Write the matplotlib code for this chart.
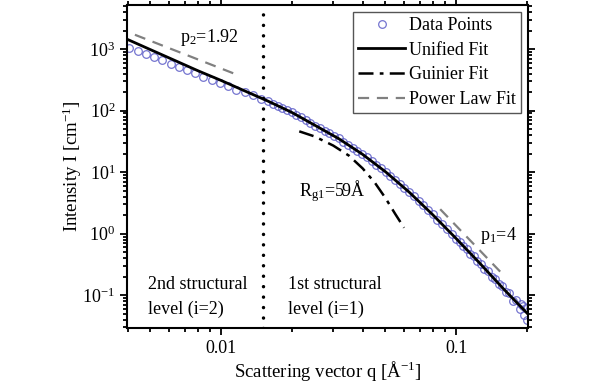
import matplotlib
matplotlib.use("Agg")
import matplotlib.pyplot as plt
from matplotlib.ticker import FixedLocator, LogLocator, LogFormatterMathtext, NullFormatter

plt.rcParams['font.family'] = ['Liberation Serif', 'DejaVu Serif']
plt.rcParams['mathtext.fontset'] = 'custom'
plt.rcParams['mathtext.rm'] = 'Liberation Serif'
plt.rcParams['mathtext.it'] = 'Liberation Serif:italic'

# measured data (q in 1/A, I in 1/cm)
q_data = [0.00407, 0.00442, 0.00479, 0.00519, 0.00562, 0.00610, 0.00661, 0.00716,
          0.00776, 0.00841, 0.00912, 0.00989, 0.01072, 0.01161, 0.01259, 0.01365,
          0.01479, 0.01585, 0.01660, 0.01738, 0.01820, 0.01905, 0.01995, 0.02089,
          0.02188, 0.02291, 0.02399, 0.02512, 0.02630, 0.02754, 0.02884, 0.03020,
          0.03162, 0.03311, 0.03467, 0.03631, 0.03802, 0.03981, 0.04169, 0.04365,
          0.04571, 0.04786, 0.05012, 0.05248, 0.05495, 0.05754, 0.06026, 0.06310,
          0.06607, 0.06918, 0.07244, 0.07586, 0.07943, 0.08318, 0.08710, 0.09120,
          0.09550, 0.1000, 0.1035, 0.1072, 0.1109, 0.1148, 0.1189, 0.1230,
          0.1274, 0.1318, 0.1365, 0.1413, 0.1462, 0.1514, 0.1567, 0.1622,
          0.1679, 0.1738, 0.1799, 0.1862, 0.1928, 0.1995, 0.1950, 0.1880, 0.1990]
I_data = [1040, 915, 822, 730, 652, 575, 512, 452,
          404, 355, 319, 281, 250, 220, 201, 176,
          157, 143, 130, 121, 110, 102, 93.8, 84.2,
          77.3, 69.5, 63.8, 57.1, 52.4, 46.9, 43.1, 38.5,
          35.3, 31.0, 28.1, 24.6, 22.3, 19.5, 17.4, 15.0,
          13.3, 11.5, 10.2, 8.6, 7.5, 6.35, 5.55, 4.70,
          4.03, 3.36, 2.88, 2.40, 2.06, 1.70, 1.44, 1.18,
          1.00, 0.825, 0.735, 0.625, 0.56, 0.475, 0.427, 0.36,
          0.322, 0.27, 0.245, 0.20, 0.187, 0.150, 0.142, 0.112,
          0.108, 0.082, 0.085, 0.060, 0.066, 0.040, 0.048, 0.072, 0.062]

# unified fit curve
q_fit = [0.00398, 0.00501, 0.00631, 0.00794, 0.0100, 0.0126, 0.0158, 0.0200, 0.0251,
         0.0316, 0.0398, 0.0501, 0.0631, 0.0794, 0.100, 0.126, 0.158, 0.200]
I_fit = [1445, 977, 661, 447, 309, 209, 143, 93.3, 57.5,
         35.1, 19.7, 10.1, 4.73, 2.04, 0.832, 0.331, 0.130, 0.0513]

# Guinier fit of first level
q_guin = [0.0215, 0.025, 0.030, 0.035, 0.040, 0.045, 0.050, 0.055, 0.060]
I_guin = [46, 38, 27, 18.5, 11.5, 6.8, 3.8, 2.1, 1.25]

# power law segments
q_p2 = [0.00430, 0.0117]
I_p2 = [1706, 382]
q_p1 = [0.0855, 0.1538]
I_p1 = [2.50, 0.242]

q_split = 0.0151

fig = plt.figure(figsize=(6, 3.83), dpi=100)
ax = fig.add_axes([0.2117, 0.1444, 0.6683, 0.8426])

ax.plot(q_data, I_data, 'o', mfc='none', mec='#5d5dc8', mew=0.9, ms=5.5,
        alpha=0.85, label='Data Points', zorder=2)
ax.plot(q_fit, I_fit, '-', color='black', lw=2, label='Unified Fit', zorder=4)
ax.plot(q_guin, I_guin, color='black', lw=1.8, ls=(0, (6, 2.5, 1.5, 2.5)),
        label='Guinier Fit', zorder=3)
ax.plot(q_p2, I_p2, color='#808080', lw=1.6, ls=(0, (5, 3.5)),
        label='Power Law Fit', zorder=3)
ax.plot(q_p1, I_p1, color='#808080', lw=1.6, ls=(0, (5, 3.5)), zorder=3)
ax.axvline(q_split, color='black', lw=2.5, ls=(0, (0.01, 3)),
           dash_capstyle='round', zorder=3)

ax.set_xscale('log')
ax.set_yscale('log')
ax.set_xlim(0.00398, 0.202)
ax.set_ylim(0.0297, 5200)

ax.xaxis.set_major_locator(FixedLocator([0.01, 0.1]))
ax.set_xticklabels(['0.01', '0.1'])
ax.xaxis.set_minor_locator(LogLocator(base=10, subs=range(2, 10), numticks=20))
ax.xaxis.set_minor_formatter(NullFormatter())
ax.yaxis.set_major_locator(LogLocator(base=10, numticks=20))
ax.yaxis.set_major_formatter(LogFormatterMathtext())
ax.yaxis.set_minor_locator(LogLocator(base=10, subs=range(2, 10), numticks=20))
ax.yaxis.set_minor_formatter(NullFormatter())

for s in ax.spines.values():
    s.set_linewidth(1.5)
ax.tick_params(which='both', direction='out', top=True, right=True, width=1.3,
               labelsize=13)
ax.tick_params(which='major', length=5)
ax.tick_params(which='minor', length=3)

ax.set_xlabel('Scattering vector q [Å$^{-1}$]', fontsize=13.5)
ax.set_ylabel('Intensity I [cm$^{-1}$]', fontsize=13.5)
ax.xaxis.set_label_coords(0.5, -0.098)
ax.yaxis.set_label_coords(-0.108, 0.5)

tk = dict(fontsize=13, va='center', ha='left')
ax.text(0.0067, 1550, 'p$_2$=1.92', **tk)
ax.text(0.0215, 5.0, 'R$_{\\rm g1}$=59Å', **tk)
ax.text(0.1265, 0.95, 'p$_1$=4', **tk)
ax.text(0.0049, 0.147, '2nd structural', **tk)
ax.text(0.0049, 0.060, 'level (i=2)', **tk)
ax.text(0.0193, 0.147, '1st structural', **tk)
ax.text(0.0193, 0.060, 'level (i=1)', **tk)

leg = ax.legend(loc='upper right', bbox_to_anchor=(0.9825, 0.979), borderaxespad=0,
                fontsize=13, fancybox=False, edgecolor='#555555', framealpha=1,
                handlelength=2.6, handletextpad=0.2, labelspacing=0.42,
                borderpad=0.3)
leg.get_frame().set_linewidth(1.0)

fig.savefig('out.png', dpi=100)
